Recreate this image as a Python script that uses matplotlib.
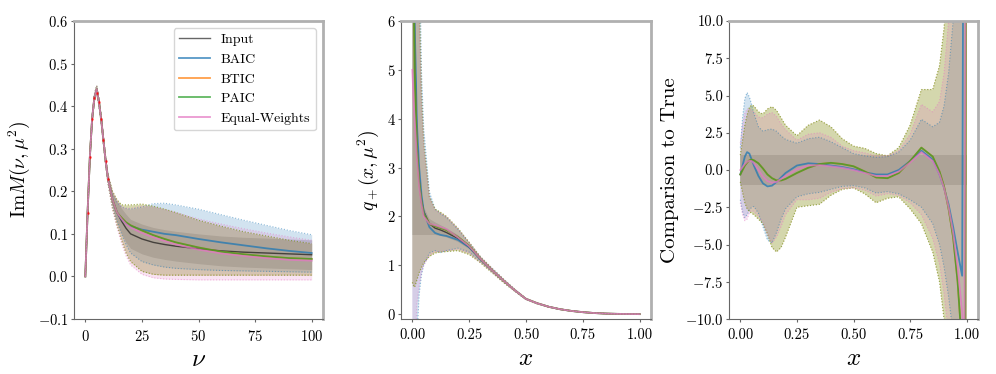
import matplotlib
matplotlib.use('Agg')
import matplotlib.pyplot as plt

plt.rcParams['font.family'] = 'serif'
plt.rcParams['font.serif'] = ['cmr10', 'DejaVu Serif']
plt.rcParams['mathtext.fontset'] = 'cm'
plt.rcParams['axes.formatter.use_mathtext'] = True
plt.rcParams['axes.unicode_minus'] = True

# --- Panel 1: Im M(nu, mu^2) ---
nu = [0, 1, 2, 3, 4, 5, 6, 7, 8, 9, 10, 12, 14, 16, 18, 20, 25, 30, 35, 40, 50, 60, 70, 80, 90, 100]
im_input = [0, 0.15, 0.28, 0.37, 0.42, 0.44, 0.41, 0.37, 0.32, 0.27, 0.23, 0.18, 0.15, 0.13, 0.113, 0.1,
            0.088, 0.08, 0.075, 0.071, 0.065, 0.06, 0.057, 0.055, 0.053, 0.051]
im_input_lo = [0, 0.145, 0.275, 0.365, 0.415, 0.433, 0.403, 0.363, 0.313, 0.263, 0.222, 0.165, 0.125, 0.1, 0.08,
               0.066, 0.053, 0.045, 0.04, 0.036, 0.03, 0.025, 0.022, 0.02, 0.018, 0.016]
im_input_hi = [0, 0.155, 0.285, 0.375, 0.425, 0.447, 0.417, 0.377, 0.327, 0.277, 0.238, 0.195, 0.175, 0.16, 0.146,
               0.134, 0.123, 0.115, 0.11, 0.106, 0.1, 0.095, 0.092, 0.09, 0.088, 0.086]
im_baic = [0, 0.15, 0.28, 0.37, 0.42, 0.44, 0.41, 0.37, 0.32, 0.27, 0.23, 0.18, 0.15, 0.135, 0.125, 0.118,
           0.11, 0.105, 0.1, 0.097, 0.088, 0.08, 0.073, 0.066, 0.06, 0.055]
im_baic_lo = [0, 0.145, 0.274, 0.364, 0.413, 0.432, 0.402, 0.362, 0.312, 0.262, 0.22, 0.165, 0.13, 0.1, 0.075, 0.055,
              0.035, 0.027, 0.022, 0.019, 0.016, 0.014, 0.013, 0.012, 0.011, 0.01]
im_baic_hi = [0, 0.155, 0.286, 0.376, 0.427, 0.448, 0.418, 0.378, 0.328, 0.278, 0.24, 0.195, 0.175, 0.163, 0.16,
              0.158, 0.163, 0.171, 0.172, 0.168, 0.158, 0.145, 0.132, 0.12, 0.108, 0.098]
im_btic = [0, 0.15, 0.28, 0.37, 0.42, 0.44, 0.41, 0.37, 0.32, 0.27, 0.23, 0.18, 0.15, 0.138, 0.127, 0.12,
           0.108, 0.097, 0.088, 0.08, 0.068, 0.058, 0.052, 0.047, 0.043, 0.041]
im_btic_lo = [0, 0.145, 0.274, 0.364, 0.413, 0.432, 0.402, 0.362, 0.312, 0.262, 0.22, 0.16, 0.12, 0.085, 0.055,
              0.035, 0.012, 0.005, 0.003, 0.003, 0.003, 0.003, 0.003, 0.003, 0.003, 0.003]
im_btic_hi = [0, 0.155, 0.286, 0.376, 0.427, 0.448, 0.418, 0.378, 0.328, 0.278, 0.24, 0.2, 0.18, 0.168, 0.168,
              0.168, 0.17, 0.165, 0.158, 0.15, 0.132, 0.118, 0.105, 0.095, 0.085, 0.077]
im_paic = im_btic
im_paic_lo = im_btic_lo
im_paic_hi = im_btic_hi
im_ew = [0, 0.15, 0.28, 0.37, 0.42, 0.44, 0.41, 0.37, 0.32, 0.27, 0.23, 0.18, 0.15, 0.135, 0.123, 0.115,
         0.102, 0.092, 0.083, 0.075, 0.063, 0.054, 0.048, 0.043, 0.039, 0.037]
im_ew_lo = [0, 0.145, 0.274, 0.364, 0.413, 0.432, 0.402, 0.362, 0.312, 0.262, 0.22, 0.158, 0.115, 0.078, 0.048,
            0.027, 0.005, -0.003, -0.006, -0.007, -0.008, -0.008, -0.008, -0.008, -0.008, -0.008]
im_ew_hi = [0, 0.155, 0.286, 0.376, 0.427, 0.448, 0.418, 0.378, 0.328, 0.278, 0.24, 0.197, 0.177, 0.164, 0.16,
            0.16, 0.165, 0.163, 0.157, 0.15, 0.135, 0.123, 0.112, 0.102, 0.093, 0.085]
nu_data = [1, 2, 3, 4, 5, 6, 7, 8, 9, 10]
im_data = [0.15, 0.28, 0.37, 0.42, 0.43, 0.41, 0.37, 0.32, 0.27, 0.23]
im_data_err = [0.004, 0.004, 0.004, 0.004, 0.004, 0.004, 0.004, 0.004, 0.004, 0.004]

# --- Panel 2: q_+(x, mu^2) ---
x2 = [0.0, 0.005, 0.01, 0.02, 0.03, 0.04, 0.05, 0.075, 0.1, 0.125, 0.15, 0.2, 0.25, 0.3, 0.35, 0.4,
      0.45, 0.5, 0.55, 0.6, 0.65, 0.7, 0.75, 0.8, 0.85, 0.9, 0.95, 1.0]
q_input = [20, 8, 5.5, 3.6, 2.8, 2.35, 2.1, 1.85, 1.76, 1.72, 1.67, 1.55, 1.37, 1.12, 0.9, 0.69,
           0.49, 0.31, 0.22, 0.15, 0.1, 0.065, 0.04, 0.022, 0.011, 0.005, 0.002, 0]
q_input_lo = [1.62, 1.62, 1.62, 1.62, 1.62, 1.62, 1.62, 1.62, 1.62, 1.6, 1.57, 1.48, 1.33, 1.1, 0.88, 0.68,
              0.48, 0.305, 0.215, 0.147, 0.098, 0.064, 0.039, 0.021, 0.011, 0.005, 0.002, 0]
q_input_hi = [20, 9, 6, 4, 3, 2.5, 2.2, 1.95, 1.88, 1.82, 1.76, 1.62, 1.41, 1.14, 0.92, 0.7,
              0.5, 0.315, 0.225, 0.153, 0.102, 0.066, 0.041, 0.023, 0.011, 0.005, 0.002, 0]
q_baic = [20, 9, 6, 3.9, 3.0, 2.45, 2.1, 1.78, 1.66, 1.62, 1.6, 1.52, 1.37, 1.12, 0.9, 0.69,
          0.49, 0.31, 0.22, 0.15, 0.1, 0.065, 0.04, 0.022, 0.011, 0.005, 0.002, 0]
q_baic_lo = [-5, -5, -3, -0.5, 0.4, 0.8, 1.0, 1.25, 1.3, 1.26, 1.3, 1.35, 1.27, 1.07, 0.86, 0.66,
             0.47, 0.3, 0.21, 0.145, 0.097, 0.063, 0.038, 0.021, 0.01, 0.005, 0.002, 0]
q_baic_hi = [20, 20, 20, 15, 8, 5, 3.8, 2.5, 2.15, 2.05, 1.98, 1.74, 1.46, 1.17, 0.94, 0.72,
             0.51, 0.32, 0.23, 0.155, 0.103, 0.067, 0.042, 0.023, 0.012, 0.005, 0.002, 0]
q_btic = [20, 7, 5, 3.4, 2.7, 2.3, 2.05, 1.85, 1.8, 1.76, 1.72, 1.58, 1.4, 1.13, 0.9, 0.69,
          0.49, 0.31, 0.22, 0.15, 0.1, 0.065, 0.04, 0.022, 0.011, 0.005, 0.002, 0]
q_btic_lo = [0.65, 0.58, 0.55, 0.7, 0.85, 0.95, 1.05, 1.18, 1.25, 1.27, 1.28, 1.3, 1.22, 1.05, 0.85, 0.65,
             0.47, 0.3, 0.21, 0.145, 0.097, 0.063, 0.038, 0.021, 0.01, 0.005, 0.002, 0]
q_btic_hi = [20, 20, 20, 12, 6.5, 4.5, 3.5, 2.4, 2.15, 2.08, 2.0, 1.76, 1.47, 1.17, 0.94, 0.72,
             0.51, 0.32, 0.23, 0.155, 0.103, 0.067, 0.042, 0.023, 0.012, 0.005, 0.002, 0]
q_paic = q_btic
q_paic_lo = q_btic_lo
q_paic_hi = q_btic_hi
q_ew = [5.0, 4.4, 4.0, 3.2, 2.6, 2.25, 2.0, 1.85, 1.82, 1.78, 1.74, 1.57, 1.39, 1.13, 0.9, 0.69,
        0.49, 0.31, 0.22, 0.15, 0.1, 0.065, 0.04, 0.022, 0.011, 0.005, 0.002, 0]
q_ew_lo = [-5, -3, -1, 0.2, 0.6, 0.85, 1.0, 1.2, 1.28, 1.28, 1.3, 1.33, 1.25, 1.06, 0.86, 0.66,
           0.47, 0.3, 0.21, 0.145, 0.097, 0.063, 0.038, 0.021, 0.01, 0.005, 0.002, 0]
q_ew_hi = [20, 20, 16, 10, 6, 4.3, 3.4, 2.38, 2.13, 2.06, 1.99, 1.75, 1.46, 1.17, 0.94, 0.72,
           0.51, 0.32, 0.23, 0.155, 0.103, 0.067, 0.042, 0.023, 0.012, 0.005, 0.002, 0]

# --- Panel 3: comparison to true ---
x3 = [0.0, 0.01, 0.02, 0.03, 0.04, 0.05, 0.06, 0.08, 0.1, 0.12, 0.14, 0.16, 0.18, 0.2, 0.25, 0.3,
      0.35, 0.4, 0.45, 0.5, 0.55, 0.6, 0.65, 0.7, 0.75, 0.8, 0.85, 0.88, 0.9, 0.92, 0.94, 0.96,
      0.98, 0.99, 1.0]
c_input = [0.0] * 35
c_input_lo = [-1.0] * 35
c_input_hi = [1.0] * 35
c_baic = [-0.3, 0.3, 0.9, 1.2, 1.1, 0.7, 0.3, -0.4, -0.9, -1.1, -1.05, -0.8, -0.5, -0.2, 0.3, 0.45,
          0.4, 0.3, 0.2, 0.05, -0.15, -0.3, -0.3, 0.0, 0.6, 1.3, 0.7, -0.3, -1.2, -2.3, -3.8, -5.5,
          -7.1, 40, 40]
c_baic_lo = [-2.0, -2.8, -3.2, -3.0, -2.7, -2.5, -2.45, -2.9, -3.8, -4.7, -4.9, -4.2, -3.3, -2.6, -1.8, -1.6,
             -1.5, -1.3, -1.1, -1.05, -1.2, -1.55, -1.45, -1.6, -2.0, -2.5, -3.6, -5.0, -6.5, -8.5, -11, -20,
             -40, -40, -40]
c_baic_hi = [1.5, 3.5, 4.8, 5.2, 4.9, 4.4, 3.8, 2.9, 2.6, 2.7, 2.75, 2.6, 2.3, 2.05, 1.8, 2.1,
             2.2, 1.9, 1.5, 1.1, 0.95, 0.85, 0.9, 1.2, 2.0, 3.4, 2.9, 3.2, 4.3, 6.5, 10, 20,
             40, 40, 40]
c_btic = [-0.3, 0.0, 0.3, 0.5, 0.65, 0.7, 0.65, 0.45, 0.1, -0.3, -0.55, -0.7, -0.7, -0.6, -0.2, 0.15,
          0.4, 0.48, 0.4, 0.25, -0.1, -0.5, -0.55, -0.2, 0.6, 1.5, 0.9, -0.1, -1.1, -2.6, -4.5, -7.5,
          -12, -40, 40]
c_btic_lo = [-0.8, -1.5, -2.2, -2.6, -2.8, -2.9, -3.0, -3.3, -3.6, -4.3, -5.2, -5.5, -5.2, -4.5, -2.5, -2.4,
             -2.3, -1.7, -1.3, -1.2, -1.6, -2.2, -1.9, -1.8, -2.6, -3.6, -5.5, -7.5, -10, -14, -20, -40,
             -40, -40, -40]
c_btic_hi = [1.0, 2.0, 3.0, 3.7, 4.2, 4.35, 4.3, 3.9, 3.75, 4.1, 4.25, 4.0, 3.5, 3.0, 2.3, 3.0,
             3.35, 2.9, 2.1, 1.6, 1.45, 1.1, 0.95, 1.5, 3.0, 5.4, 5.4, 7.0, 9.5, 14, 20, 40,
             40, 40, 40]
c_paic = c_btic
c_paic_lo = c_btic_lo
c_paic_hi = c_btic_hi
c_ew = [0.0, 0.2, 0.4, 0.55, 0.62, 0.6, 0.45, 0.0, -0.45, -0.75, -0.85, -0.8, -0.6, -0.4, 0.05, 0.3,
        0.32, 0.25, 0.15, 0.0, -0.2, -0.4, -0.4, -0.1, 0.5, 1.2, 0.6, -0.3, -1.2, -2.5, -4.2, -6.5,
        -9.5, -13, 40]
c_ew_lo = [-2.2, -3.0, -3.4, -3.3, -2.9, -2.7, -2.8, -3.1, -3.5, -4.3, -4.9, -4.5, -3.8, -3.0, -2.0, -2.0,
           -1.9, -1.5, -1.25, -1.2, -1.35, -1.75, -1.6, -1.7, -2.2, -3.0, -4.6, -6.3, -8.3, -11, -16, -40,
           -40, -40, -40]
c_ew_hi = [1.8, 3.0, 3.8, 4.1, 4.1, 4.0, 3.9, 3.55, 3.5, 3.75, 3.85, 3.6, 3.1, 2.7, 2.0, 2.4,
           2.5, 2.2, 1.6, 1.3, 1.15, 0.95, 0.95, 1.3, 2.4, 4.4, 3.9, 4.6, 6.5, 10, 16, 40,
           40, 40, 40]

labels = ['BAIC', 'BTIC', 'PAIC', 'Equal-Weights']
colors = ['tab:blue', 'tab:orange', 'tab:green', 'tab:pink']


def draw_panel(ax, x, inp, models, show_input_line=True):
    mid, lo, hi = inp
    if show_input_line:
        ax.plot(x, mid, color='k', lw=1, alpha=0.6, label='Input')
    ax.fill_between(x, lo, hi, color='gray', alpha=0.35, lw=0)
    for (m, mlo, mhi), lab, c in zip(models, labels, colors):
        ax.plot(x, m, color=c, lw=1.3, alpha=0.75, label=lab)
        ax.fill_between(x, mlo, mhi, color=c, alpha=0.2, lw=0)
        ax.plot(x, mlo, color=c, lw=0.8, ls=':', alpha=0.5)
        ax.plot(x, mhi, color=c, lw=0.8, ls=':', alpha=0.5)


def style(ax):
    for s in ['left', 'bottom']:
        ax.spines[s].set_color('#666666')
        ax.spines[s].set_linewidth(0.8)
    for s in ['top', 'right']:
        ax.spines[s].set_color('#b0b0b0')
        ax.spines[s].set_linewidth(2)
    ax.tick_params(labelsize=10.5, length=2, color='#666666')
    ax.tick_params(axis='y', pad=2)
    ax.tick_params(axis='x', pad=5)


fig = plt.figure(figsize=(9.96, 3.74), dpi=100)
ax1 = fig.add_axes([74 / 996, 55 / 374, 249 / 996, 298 / 374])
ax2 = fig.add_axes([401 / 996, 55 / 374, 250 / 996, 298 / 374])
ax3 = fig.add_axes([729 / 996, 55 / 374, 249 / 996, 298 / 374])

draw_panel(ax1, nu, (im_input, im_input_lo, im_input_hi),
           [(im_baic, im_baic_lo, im_baic_hi), (im_btic, im_btic_lo, im_btic_hi),
            (im_paic, im_paic_lo, im_paic_hi), (im_ew, im_ew_lo, im_ew_hi)])
ax1.errorbar(nu_data, im_data, yerr=im_data_err, fmt='o', color='red', ms=1, lw=0.6, alpha=0.5)
ax1.set_xlim(-5, 105)
ax1.set_ylim(-0.1, 0.6)
ax1.set_xticks([0, 25, 50, 75, 100])
ax1.set_xlabel(r'$\nu$', fontsize=18)
ax1.set_ylabel(r'$\mathrm{Im}M(\nu,\mu^2)$', fontsize=14)
ax1.legend(loc='upper right', fontsize=10, framealpha=0.8, handlelength=2.2)

draw_panel(ax2, x2, (q_input, q_input_lo, q_input_hi),
           [(q_baic, q_baic_lo, q_baic_hi), (q_btic, q_btic_lo, q_btic_hi),
            (q_paic, q_paic_lo, q_paic_hi), (q_ew, q_ew_lo, q_ew_hi)])
ax2.set_xlim(-0.05, 1.05)
ax2.set_ylim(-0.1, 6)
ax2.set_xticks([0, 0.25, 0.5, 0.75, 1.0])
ax2.set_xticklabels(['0.00', '0.25', '0.50', '0.75', '1.00'])
ax2.set_xlabel(r'$x$', fontsize=18)
ax2.set_ylabel(r'$q_+(x,\mu^2)$', fontsize=14)

draw_panel(ax3, x3, (c_input, c_input_lo, c_input_hi),
           [(c_baic, c_baic_lo, c_baic_hi), (c_btic, c_btic_lo, c_btic_hi),
            (c_paic, c_paic_lo, c_paic_hi), (c_ew, c_ew_lo, c_ew_hi)], show_input_line=False)
ax3.set_xlim(-0.05, 1.05)
ax3.set_ylim(-10, 10)
ax3.set_xticks([0, 0.25, 0.5, 0.75, 1.0])
ax3.set_xticklabels(['0.00', '0.25', '0.50', '0.75', '1.00'])
ax3.set_yticks([-10, -7.5, -5, -2.5, 0, 2.5, 5, 7.5, 10])
ax3.set_yticklabels(['$-10.0$', '$-7.5$', '$-5.0$', '$-2.5$', '0.0', '2.5', '5.0', '7.5', '10.0'])
ax3.set_xlabel(r'$x$', fontsize=18)
ax3.set_ylabel('Comparison to True', fontsize=15)

for ax in (ax1, ax2, ax3):
    style(ax)

fig.savefig('out.png', dpi=100)
